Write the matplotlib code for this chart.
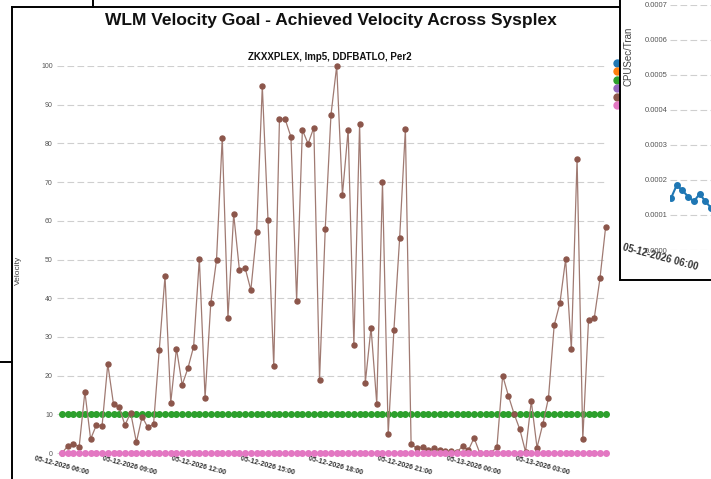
import pandas as pd
import matplotlib
matplotlib.use('Agg')
import matplotlib.pyplot as plt
import matplotlib.dates as mdates
from matplotlib.lines import Line2D
from matplotlib.patches import Rectangle
from matplotlib.ticker import FormatStrFormatter
from matplotlib.transforms import ScaledTranslation

plt.rcParams['font.family'] = ['Liberation Sans', 'DejaVu Sans']

W, H = 711, 479

# ---- data ----
times = pd.date_range('2026-05-12 06:00', periods=96, freq='15min')

achieved = [0, 1.8, 2.4, 1.6, 15.8, 3.6, 7.2, 7.0, 23.0, 12.6,
            11.8, 7.2, 10.4, 2.8, 9.4, 6.6, 7.5, 26.7, 45.7, 13.0,
            27.0, 17.6, 21.9, 27.5, 50.2, 14.3, 38.8, 49.9, 81.5, 34.9,
            61.7, 47.3, 47.8, 42.1, 57.0, 94.8, 60.1, 22.4, 86.4, 86.2,
            81.7, 39.4, 83.5, 79.9, 84.1, 18.9, 58.0, 87.4, 100.0, 66.7,
            83.5, 27.8, 85.0, 18.2, 32.4, 12.7, 69.9, 4.9, 31.9, 55.6,
            83.7, 2.3, 1.2, 1.6, 0.7, 1.2, 0.8, 0.4, 0.4, 0.2,
            1.8, 0.7, 3.9, 0.0, 0.0, 0.0, 1.6, 20.0, 14.8, 10.1,
            6.1, 0.3, 13.4, 1.4, 7.4, 14.2, 33.0, 38.7, 50.1, 26.8,
            76.0, 3.6, 34.3, 34.8, 45.1, 58.5]
velocity_goal = [10] * 96
lower_bound = [0] * 96

series_names = ['Importance', 'Goal Type', 'Velocity Goal',
                'Period', 'Achieved Velocity', 'Minimum']
series_colors = ['#1f77b4', '#ff7f0e', '#2ca02c', '#9467bd', '#8c564b', '#e377c2']

cpu_sec_tran = [0.000148, 0.000185, 0.000170, 0.000152,
                0.000139, 0.000160, 0.000139, 0.000120]


def fx(px):
    return px / W


def fy(py):
    return 1 - py / H


fig = plt.figure(figsize=(W / 100, H / 100), dpi=100)

xs = mdates.date2num(times)
step = xs[1] - xs[0]
px_step = 5.723

# ---- main chart ----
ax = fig.add_axes([fx(57), fy(457), 550 / W, (457 - 66) / H])
ax.plot([], [], color=series_colors[0], label=series_names[0])
ax.plot([], [], color=series_colors[1], label=series_names[1])
ax.plot(times, velocity_goal, color=series_colors[2], lw=1, marker='o',
        markersize=4, label=series_names[2], clip_on=False)
ax.plot([], [], color=series_colors[3], label=series_names[3])
ax.plot(times, achieved, color='#a07a72', lw=0.9, marker='o', markersize=3.6,
        markerfacecolor=series_colors[4], markeredgecolor=series_colors[4],
        label=series_names[4], clip_on=False)
ax.plot(times, lower_bound, color=series_colors[5], lw=1, marker='o',
        markersize=4, label=series_names[5], clip_on=False)

left = xs[0] - (62 - 57) / px_step * step
ax.set_xlim(left, left + 550 / px_step * step)
ax.set_ylim(-1.03, 100)
ax.set_yticks(range(0, 101, 10))
ax.xaxis.set_major_locator(mdates.HourLocator(byhour=range(0, 24, 3)))
ax.xaxis.set_major_formatter(mdates.DateFormatter('%m-%d-%Y %H:%M'))
ax.yaxis.grid(True, linestyle=(0, (6, 3)), color='#cfcfcf', lw=0.8)
ax.set_axisbelow(True)
for s in ax.spines.values():
    s.set_visible(False)
ax.tick_params(axis='both', length=0, colors='#555555')
ax.tick_params(axis='y', labelsize=5, pad=3)
ax.tick_params(axis='x', labelsize=5, pad=4)
for lab in ax.get_xticklabels():
    lab.set_rotation(-15)
    lab.set_ha('center')
    lab.set_rotation_mode('anchor')
    lab.set_fontweight('bold')
    lab.set_color('#333333')
ax.set_ylabel('Velocity', fontsize=6, color='#444444')
ax.yaxis.set_label_coords((22 - 57) / 550, (457 - 270) / 391)

# legend sits under the overlapping window: only its markers peek out
handles = [Line2D([], [], marker='o', linestyle='none', color=c, markersize=5)
           for c in series_colors]
leg = ax.legend(handles, series_names, loc='upper left', frameon=False,
                bbox_to_anchor=(fx(611), fy(57)), bbox_transform=fig.transFigure,
                fontsize=5, handlelength=0.8, handletextpad=0.4, borderpad=0,
                labelspacing=0.2)
for t in leg.get_texts():
    t.set_visible(False)

fig.text(fx(331), fy(21), 'WLM Velocity Goal - Achieved Velocity Across Sysplex',
         ha='center', va='center', fontsize=12.5, fontweight='bold', color='#111111')
fig.text(fx(330), fy(57), 'ZKXXPLEX, Imp5, DDFBATLO, Per2',
         ha='center', va='center', fontsize=7, fontweight='bold', color='#111111')

# ---- window borders ----
border = dict(color='black', lw=1.4, transform=fig.transFigure)
fig.add_artist(Line2D([fx(12), fx(12)], [fy(7), fy(485)], **border))
fig.add_artist(Line2D([fx(12), fx(620)], [fy(7), fy(7)], **border))
fig.add_artist(Line2D([fx(93), fx(93)], [fy(-5), fy(7)], **border))
fig.add_artist(Line2D([fx(-5), fx(12)], [fy(362), fy(362)], **border))

# ---- overlapping window on the right ----
fig.add_artist(Rectangle((fx(620), fy(280)), fx(740) - fx(620), fy(-20) - fy(280),
                         facecolor='white', edgecolor='black', lw=1.4,
                         transform=fig.transFigure, zorder=5))

ax2 = fig.add_axes([fx(670), fy(250), 230 / W, (250 - 4.7) / H], zorder=6)
ax2.patch.set_alpha(0)
ax2.plot(times[:len(cpu_sec_tran)], cpu_sec_tran, color=series_colors[0], lw=1.5,
         marker='o', markersize=4)
left2 = xs[0] - (671 - 670) / px_step * step
ax2.set_xlim(left2, left2 + 230 / px_step * step)
ax2.set_ylim(0, 0.0007)
ax2.set_yticks([i * 0.0001 for i in range(8)])
ax2.yaxis.set_major_formatter(FormatStrFormatter('%.4f'))
ax2.xaxis.set_major_locator(mdates.HourLocator(byhour=[6]))
ax2.xaxis.set_major_formatter(mdates.DateFormatter('%m-%d-%Y %H:%M'))
ax2.yaxis.grid(True, linestyle=(0, (6, 3)), color='#cfcfcf', lw=0.8)
for s in ax2.spines.values():
    s.set_visible(False)
ax2.tick_params(axis='both', length=0, colors='#555555')
ax2.tick_params(axis='y', labelsize=5.5, pad=2)
ax2.tick_params(axis='x', labelsize=7, pad=2)
shift = ScaledTranslation(-9 / 100, 0, fig.dpi_scale_trans)
for lab in ax2.get_xticklabels():
    lab.set_rotation(-15)
    lab.set_ha('center')
    lab.set_rotation_mode('anchor')
    lab.set_fontweight('bold')
    lab.set_color('#333333')
    lab.set_transform(lab.get_transform() + shift)
ax2.set_ylabel('CPUSec/Tran', fontsize=7, color='#444444')
ax2.yaxis.set_label_coords((633 - 670) / 230, (250 - 56) / 245.3)

fig.savefig('out.png', dpi=100)
